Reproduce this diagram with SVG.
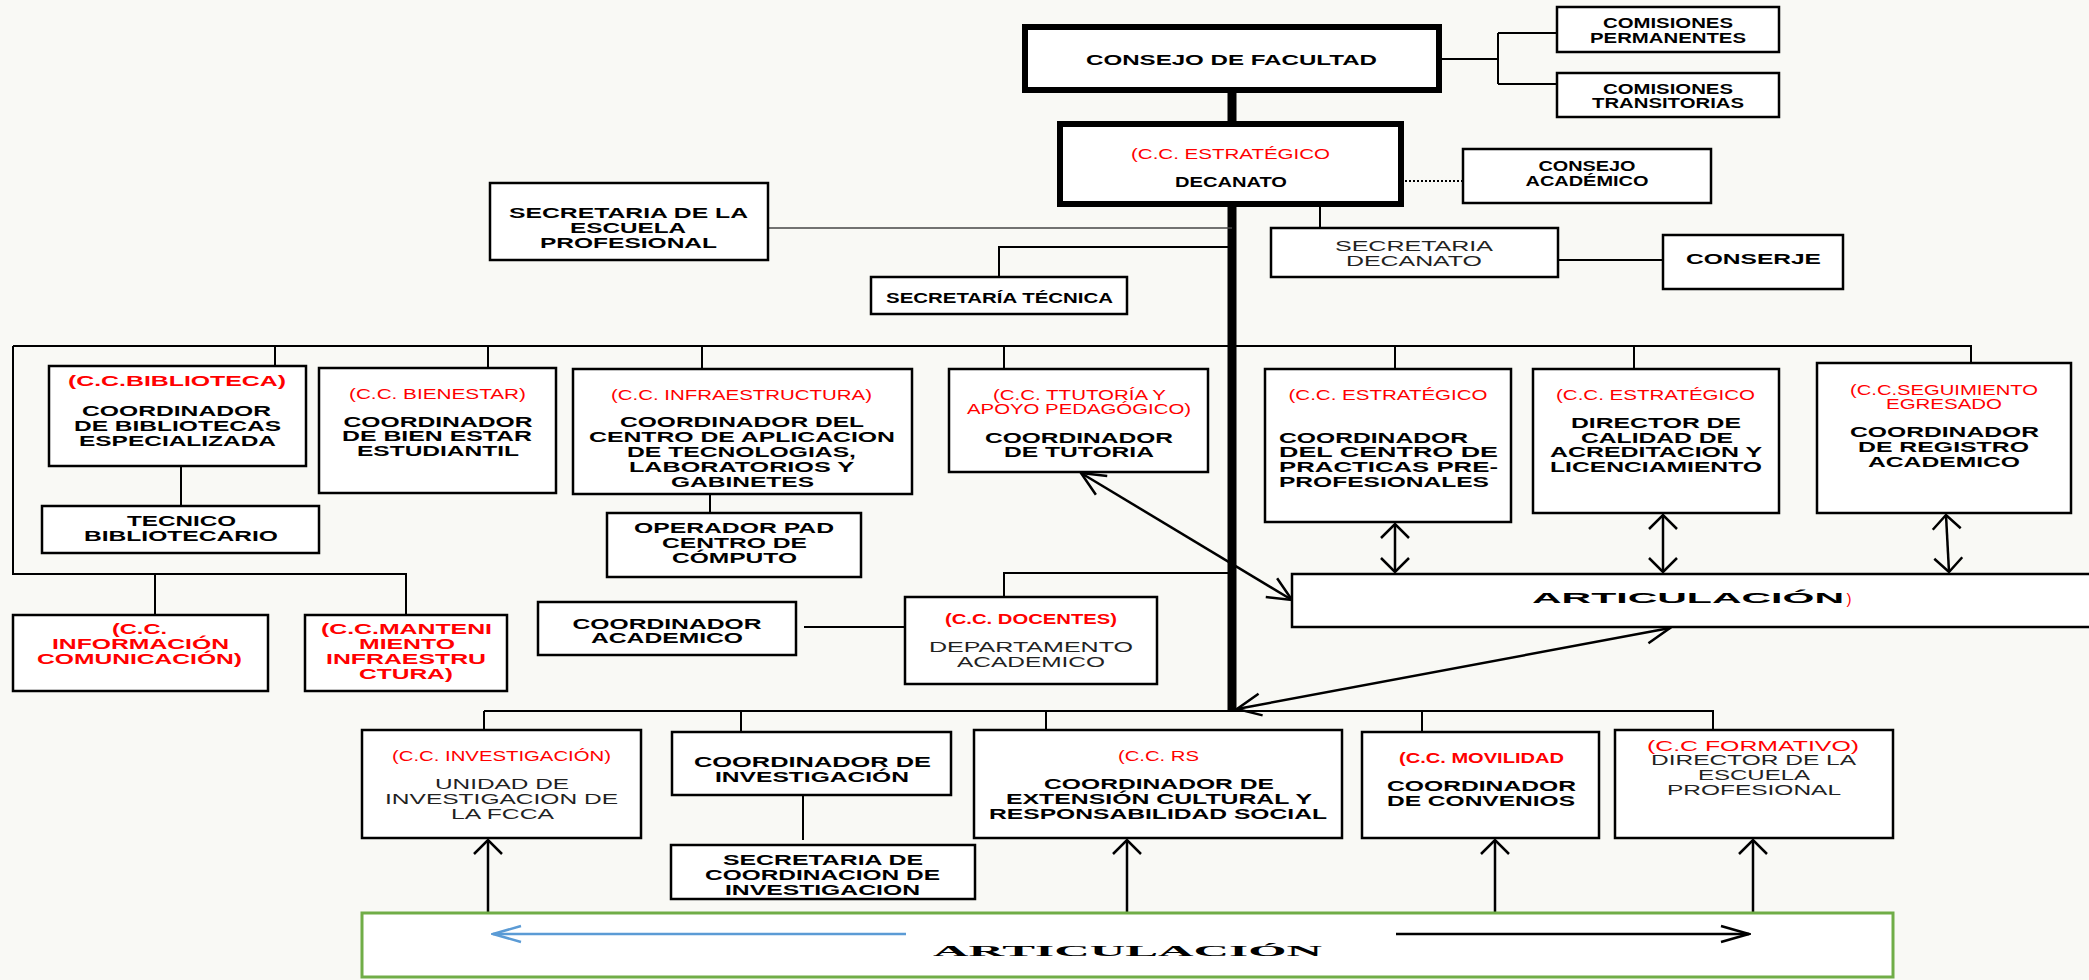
<svg xmlns="http://www.w3.org/2000/svg" width="2089" height="980" viewBox="0 0 2089 980">
<style>
text { font-family: "Liberation Sans", Arial, sans-serif; text-anchor: middle; font-size: 15px; fill: #000; }
.b { font-weight: bold; }
.r { fill: #ff0000; }
.g { fill: #222; }
.s14 { font-size: 14px; }
.st { text-anchor: start; }
.box { fill: #fff; stroke: #000; stroke-width: 2.5; }
.thick { stroke-width: 6; }
.green { stroke: #70ad47; stroke-width: 3; }
.ln { stroke: #000; stroke-width: 2; fill: none; }
.thin { stroke: #444; stroke-width: 1.6; }
.trunk { stroke-width: 9; }
.ar { stroke-width: 2.5; }
.dot { stroke-dasharray: 2 2; }
</style>
<defs>
<marker id="ahv" viewBox="-16 -16 18 32" refX="0" refY="0" markerWidth="18" markerHeight="32" markerUnits="userSpaceOnUse" orient="auto-start-reverse">
<path d="M-14,-14 L0,0 L-14,14" fill="none" stroke="#000" stroke-width="2.5"/>
</marker>
<marker id="ahd" viewBox="-26 -14 28 28" refX="0" refY="0" markerWidth="28" markerHeight="28" markerUnits="userSpaceOnUse" orient="auto-start-reverse">
<path d="M-24,-11 L0,0 L-24,11" fill="none" stroke="#000" stroke-width="2.5"/>
</marker>
<marker id="ahh" viewBox="-30 -10 32 20" refX="0" refY="0" markerWidth="32" markerHeight="20" markerUnits="userSpaceOnUse" orient="auto">
<path d="M-28,-8 L0,0 L-28,8" fill="none" stroke="#000" stroke-width="2.5"/>
</marker>
<marker id="ahb" viewBox="-30 -10 32 20" refX="0" refY="0" markerWidth="32" markerHeight="20" markerUnits="userSpaceOnUse" orient="auto">
<path d="M-28,-8 L0,0 L-28,8" fill="none" stroke="#5b9bd5" stroke-width="2.5"/>
</marker>
</defs>
<rect x="0" y="0" width="2089" height="980" fill="#f9f9f5"/>

<g id="connectors">
<path class="ln trunk" d="M1232,90 V124 M1232,204 V712"/>
<path class="ln" d="M1439,59 H1498 M1498,33 V84 M1498,33 H1557 M1498,84 H1557"/>
<path class="ln dot" d="M1401,181 H1463"/>
<path class="ln" d="M1320,204 V228 M1558,260 H1663"/>
<path class="ln thin" d="M768,228 H1232"/>
<path class="ln" d="M1232,247 H999 V277"/>
<path class="ln" d="M13,346 H1971 V363 M13,346 V574 H406 V615 M155,574 V615 M275,346 V366 M488,346 V368 M702,346 V369 M1004,346 V369 M1395,346 V369 M1634,346 V369"/>
<path class="ln" d="M181,466 V506 M710,494 V513"/>
<path class="ln" d="M1232,573 H1004 V597 M804,627 H905"/>
<path class="ln" d="M484,711 H1713 V730 M484,711 V730 M741,711 V732 M1046,711 V730 M1422,711 V732 M803,795 V840"/>
<path class="ln ar" d="M1395,524 V572" marker-start="url(#ahv)" marker-end="url(#ahv)"/>
<path class="ln ar" d="M1663,515 V572" marker-start="url(#ahv)" marker-end="url(#ahv)"/>
<path class="ln ar" d="M1946,515 L1949,572" marker-start="url(#ahv)" marker-end="url(#ahv)"/>
<path class="ln ar" d="M1081,473 L1292,600" marker-start="url(#ahd)" marker-end="url(#ahd)"/>
<path class="ln ar" d="M1237,709 L1670,628" marker-start="url(#ahd)" marker-end="url(#ahd)"/>
<path class="ln ar" d="M488,913 V840" marker-end="url(#ahv)"/>
<path class="ln ar" d="M1127,913 V840" marker-end="url(#ahv)"/>
<path class="ln ar" d="M1495,913 V840" marker-end="url(#ahv)"/>
<path class="ln ar" d="M1753,913 V840" marker-end="url(#ahv)"/>
</g>

<g id="consejo"><rect class="box thick" x="1025" y="27" width="414" height="63"/>
<text class="b" x="1231.5" y="65" font-size="17" textLength="291" lengthAdjust="spacingAndGlyphs">CONSEJO DE FACULTAD</text></g>

<g id="comisiones-permanentes"><rect class="box" x="1557" y="7" width="222" height="45"/>
<text class="b s14" x="1668" y="28" textLength="130" lengthAdjust="spacingAndGlyphs">COMISIONES</text>
<text class="b s14" x="1668" y="43" textLength="156" lengthAdjust="spacingAndGlyphs">PERMANENTES</text></g>

<g id="comisiones-transitorias"><rect class="box" x="1557" y="73" width="222" height="44"/>
<text class="b s14" x="1668" y="94" textLength="130" lengthAdjust="spacingAndGlyphs">COMISIONES</text>
<text class="b s14" x="1668" y="108" textLength="152" lengthAdjust="spacingAndGlyphs">TRANSITORIAS</text></g>

<g id="decanato"><rect class="box thick" x="1060" y="124" width="341" height="80"/>
<text class="r s14" x="1230.5" y="159" textLength="199" lengthAdjust="spacingAndGlyphs">(C.C. ESTRATÉGICO</text>
<text class="b s14" x="1231" y="187" textLength="112" lengthAdjust="spacingAndGlyphs">DECANATO</text></g>

<g id="consejo-academico"><rect class="box" x="1463" y="149" width="248" height="54"/>
<text class="b s14" x="1587" y="171" textLength="97" lengthAdjust="spacingAndGlyphs">CONSEJO</text>
<text class="b s14" x="1587" y="186" textLength="123" lengthAdjust="spacingAndGlyphs">ACADÉMICO</text></g>

<g id="secretaria-decanato"><rect class="box" x="1271" y="228" width="287" height="49"/>
<text class="g" x="1414" y="251" textLength="158" lengthAdjust="spacingAndGlyphs">SECRETARIA</text>
<text class="g" x="1414" y="266" textLength="136" lengthAdjust="spacingAndGlyphs">DECANATO</text></g>

<g id="conserje"><rect class="box" x="1663" y="235" width="180" height="54"/>
<text class="b" x="1753.5" y="264" textLength="135" lengthAdjust="spacingAndGlyphs">CONSERJE</text></g>

<g id="secretaria-escuela"><rect class="box" x="490" y="183" width="278" height="77"/>
<text class="b s14" x="628.5" y="218" textLength="239" lengthAdjust="spacingAndGlyphs">SECRETARIA DE LA</text>
<text class="b s14" x="628" y="233" textLength="116" lengthAdjust="spacingAndGlyphs">ESCUELA</text>
<text class="b s14" x="628.5" y="248" textLength="177" lengthAdjust="spacingAndGlyphs">PROFESIONAL</text></g>

<g id="secretaria-tecnica"><rect class="box" x="871" y="277" width="256" height="37"/>
<text class="b s14" x="999.5" y="303" textLength="227" lengthAdjust="spacingAndGlyphs">SECRETARÍA TÉCNICA</text></g>

<g id="biblioteca"><rect class="box" x="49" y="366" width="257" height="100"/>
<text class="b r" x="177" y="386" textLength="218" lengthAdjust="spacingAndGlyphs">(C.C.BIBLIOTECA)</text>
<text class="b" x="176.5" y="416" textLength="189" lengthAdjust="spacingAndGlyphs">COORDINADOR</text>
<text class="b" x="177.5" y="431" textLength="207" lengthAdjust="spacingAndGlyphs">DE BIBLIOTECAS</text>
<text class="b" x="177.5" y="446" textLength="197" lengthAdjust="spacingAndGlyphs">ESPECIALIZADA</text></g>

<g id="tecnico-bibliotecario"><rect class="box" x="42" y="506" width="277" height="47"/>
<text class="b" x="181.5" y="526" textLength="109" lengthAdjust="spacingAndGlyphs">TECNICO</text>
<text class="b" x="181" y="541" textLength="194" lengthAdjust="spacingAndGlyphs">BIBLIOTECARIO</text></g>

<g id="bienestar"><rect class="box" x="319" y="368" width="237" height="125"/>
<text class="r" x="437.5" y="399" textLength="177" lengthAdjust="spacingAndGlyphs">(C.C. BIENESTAR)</text>
<text class="b" x="438" y="427" textLength="189" lengthAdjust="spacingAndGlyphs">COORDINADOR</text>
<text class="b" x="437" y="441" textLength="190" lengthAdjust="spacingAndGlyphs">DE BIEN ESTAR</text>
<text class="b" x="438" y="456" textLength="162" lengthAdjust="spacingAndGlyphs">ESTUDIANTIL</text></g>

<g id="infraestructura"><rect class="box" x="573" y="369" width="339" height="125"/>
<text class="r" x="741.5" y="400" textLength="261" lengthAdjust="spacingAndGlyphs">(C.C. INFRAESTRUCTURA)</text>
<text class="b" x="742" y="427" textLength="244" lengthAdjust="spacingAndGlyphs">COORDINADOR DEL</text>
<text class="b" x="742" y="442" textLength="306" lengthAdjust="spacingAndGlyphs">CENTRO DE APLICACION</text>
<text class="b" x="741.5" y="457" textLength="229" lengthAdjust="spacingAndGlyphs">DE TECNOLOGIAS,</text>
<text class="b" x="741.5" y="472" textLength="225" lengthAdjust="spacingAndGlyphs">LABORATORIOS Y</text>
<text class="b" x="742.5" y="487" textLength="143" lengthAdjust="spacingAndGlyphs">GABINETES</text></g>

<g id="operador-pad"><rect class="box" x="607" y="513" width="254" height="64"/>
<text class="b" x="734" y="533" textLength="200" lengthAdjust="spacingAndGlyphs">OPERADOR PAD</text>
<text class="b" x="734.5" y="548" textLength="145" lengthAdjust="spacingAndGlyphs">CENTRO DE</text>
<text class="b" x="734.5" y="563" textLength="125" lengthAdjust="spacingAndGlyphs">CÓMPUTO</text></g>

<g id="tutoria"><rect class="box" x="949" y="369" width="259" height="103"/>
<text class="r" x="1079.5" y="400" textLength="173" lengthAdjust="spacingAndGlyphs">(C.C. TTUTORÍA Y</text>
<text class="r" x="1079" y="414" textLength="224" lengthAdjust="spacingAndGlyphs">APOYO PEDAGÓGICO)</text>
<text class="b" x="1079" y="443" textLength="188" lengthAdjust="spacingAndGlyphs">COORDINADOR</text>
<text class="b" x="1079" y="457" textLength="150" lengthAdjust="spacingAndGlyphs">DE TUTORIA</text></g>

<g id="informacion"><rect class="box" x="13" y="615" width="255" height="76"/>
<text class="b r" x="139.5" y="634" textLength="55" lengthAdjust="spacingAndGlyphs">(C.C.</text>
<text class="b r" x="140.5" y="649" textLength="177" lengthAdjust="spacingAndGlyphs">INFORMACIÓN</text>
<text class="b r" x="139.5" y="664" textLength="205" lengthAdjust="spacingAndGlyphs">COMUNICACIÓN)</text></g>

<g id="mantenimiento"><rect class="box" x="305" y="615" width="202" height="76"/>
<text class="b r" x="406.5" y="634" textLength="171" lengthAdjust="spacingAndGlyphs">(C.C.MANTENI</text>
<text class="b r" x="407" y="649" textLength="96" lengthAdjust="spacingAndGlyphs">MIENTO</text>
<text class="b r" x="406" y="664" textLength="160" lengthAdjust="spacingAndGlyphs">INFRAESTRU</text>
<text class="b r" x="406" y="679" textLength="94" lengthAdjust="spacingAndGlyphs">CTURA)</text></g>

<g id="coordinador-academico"><rect class="box" x="538" y="602" width="258" height="53"/>
<text class="b" x="667" y="629" textLength="189" lengthAdjust="spacingAndGlyphs">COORDINADOR</text>
<text class="b" x="667" y="643" textLength="152" lengthAdjust="spacingAndGlyphs">ACADEMICO</text></g>

<g id="docentes"><rect class="box" x="905" y="597" width="252" height="87"/>
<text class="b r" x="1031" y="624" textLength="172" lengthAdjust="spacingAndGlyphs">(C.C. DOCENTES)</text>
<text class="g" x="1031" y="652" textLength="204" lengthAdjust="spacingAndGlyphs">DEPARTAMENTO</text>
<text class="g" x="1031" y="667" textLength="148" lengthAdjust="spacingAndGlyphs">ACADEMICO</text></g>

<g id="practicas"><rect class="box" x="1265" y="369" width="246" height="153"/>
<text class="r" x="1388" y="400" textLength="199" lengthAdjust="spacingAndGlyphs">(C.C. ESTRATÉGICO</text>
<text class="b st" x="1279" y="443" textLength="189" lengthAdjust="spacingAndGlyphs">COORDINADOR</text>
<text class="b st" x="1279" y="457" textLength="219" lengthAdjust="spacingAndGlyphs">DEL  CENTRO  DE</text>
<text class="b st" x="1279" y="472" textLength="219" lengthAdjust="spacingAndGlyphs">PRACTICAS  PRE-</text>
<text class="b st" x="1279" y="487" textLength="210" lengthAdjust="spacingAndGlyphs">PROFESIONALES</text></g>

<g id="calidad"><rect class="box" x="1533" y="369" width="246" height="144"/>
<text class="r" x="1655.5" y="400" textLength="199" lengthAdjust="spacingAndGlyphs">(C.C. ESTRATÉGICO</text>
<text class="b" x="1656" y="428" textLength="170" lengthAdjust="spacingAndGlyphs">DIRECTOR DE</text>
<text class="b" x="1657" y="443" textLength="152" lengthAdjust="spacingAndGlyphs">CALIDAD DE</text>
<text class="b" x="1656" y="457" textLength="212" lengthAdjust="spacingAndGlyphs">ACREDITACION Y</text>
<text class="b" x="1656" y="472" textLength="212" lengthAdjust="spacingAndGlyphs">LICENCIAMIENTO</text></g>

<g id="seguimiento"><rect class="box" x="1817" y="363" width="254" height="150"/>
<text class="r" x="1944" y="395" textLength="188" lengthAdjust="spacingAndGlyphs">(C.C.SEGUIMIENTO</text>
<text class="r" x="1944" y="409" textLength="116" lengthAdjust="spacingAndGlyphs">EGRESADO</text>
<text class="b" x="1944.5" y="437" textLength="189" lengthAdjust="spacingAndGlyphs">COORDINADOR</text>
<text class="b" x="1943.5" y="452" textLength="171" lengthAdjust="spacingAndGlyphs">DE REGISTRO</text>
<text class="b" x="1944" y="467" textLength="152" lengthAdjust="spacingAndGlyphs">ACADEMICO</text></g>

<g id="articulacion-superior"><rect class="box" x="1292" y="574" width="820" height="53"/>
<text class="b" x="1688" y="603" font-size="22" textLength="312" lengthAdjust="spacingAndGlyphs">ARTICULACIÓN</text>
<text class="r" x="1849" y="604" font-size="11">)</text></g>

<g id="investigacion"><rect class="box" x="362" y="730" width="279" height="108"/>
<text class="r" x="501.5" y="761" textLength="219" lengthAdjust="spacingAndGlyphs">(C.C. INVESTIGACIÓN)</text>
<text class="g" x="502" y="789" textLength="134" lengthAdjust="spacingAndGlyphs">UNIDAD DE</text>
<text class="g" x="501.5" y="804" textLength="233" lengthAdjust="spacingAndGlyphs">INVESTIGACION DE</text>
<text class="g" x="502.5" y="819" textLength="103" lengthAdjust="spacingAndGlyphs">LA FCCA</text></g>

<g id="coordinador-investigacion"><rect class="box" x="672" y="732" width="279" height="63"/>
<text class="b" x="812.5" y="767" textLength="237" lengthAdjust="spacingAndGlyphs">COORDINADOR  DE</text>
<text class="b" x="812" y="782" textLength="194" lengthAdjust="spacingAndGlyphs">INVESTIGACIÓN</text></g>

<g id="secretaria-coordinacion"><rect class="box" x="671" y="845" width="304" height="54"/>
<text class="b" x="823" y="865" textLength="200" lengthAdjust="spacingAndGlyphs">SECRETARIA DE</text>
<text class="b" x="822.5" y="880" textLength="235" lengthAdjust="spacingAndGlyphs">COORDINACION DE</text>
<text class="b" x="822.5" y="895" textLength="195" lengthAdjust="spacingAndGlyphs">INVESTIGACION</text></g>

<g id="rs"><rect class="box" x="974" y="730" width="368" height="108"/>
<text class="r" x="1158.5" y="761" textLength="81" lengthAdjust="spacingAndGlyphs">(C.C. RS</text>
<text class="b" x="1159" y="789" textLength="230" lengthAdjust="spacingAndGlyphs">COORDINADOR DE</text>
<text class="b" x="1159" y="804" textLength="306" lengthAdjust="spacingAndGlyphs">EXTENSIÓN CULTURAL Y</text>
<text class="b" x="1158" y="819" textLength="338" lengthAdjust="spacingAndGlyphs">RESPONSABILIDAD SOCIAL</text></g>

<g id="movilidad"><rect class="box" x="1362" y="732" width="237" height="106"/>
<text class="b r" x="1481.5" y="763" textLength="165" lengthAdjust="spacingAndGlyphs">(C.C. MOVILIDAD</text>
<text class="b" x="1481.5" y="791" textLength="189" lengthAdjust="spacingAndGlyphs">COORDINADOR</text>
<text class="b" x="1481" y="806" textLength="188" lengthAdjust="spacingAndGlyphs">DE CONVENIOS</text></g>

<g id="formativo"><rect class="box" x="1615" y="730" width="278" height="108"/>
<text class="r" x="1753" y="751" font-size="16" textLength="212" lengthAdjust="spacingAndGlyphs">(C.C FORMATIVO)</text>
<text class="g" x="1753.5" y="765" textLength="205" lengthAdjust="spacingAndGlyphs">DIRECTOR DE LA</text>
<text class="g" x="1754" y="780" textLength="112" lengthAdjust="spacingAndGlyphs">ESCUELA</text>
<text class="g" x="1754" y="795" textLength="174" lengthAdjust="spacingAndGlyphs">PROFESIONAL</text></g>

<g id="articulacion-inferior"><rect class="box green" x="362" y="913" width="1531" height="64"/>
<text class="b" x="1127.5" y="956" font-size="28" style="font-family: 'Liberation Serif', 'Times New Roman', serif;" textLength="389" lengthAdjust="spacingAndGlyphs">ARTICULACIÓN</text>
<path d="M906,934 H493" fill="none" stroke="#5b9bd5" stroke-width="2.5" marker-end="url(#ahb)"/>
<path d="M1396,934 H1749" fill="none" stroke="#000" stroke-width="2.5" marker-end="url(#ahh)"/></g>
</svg>
